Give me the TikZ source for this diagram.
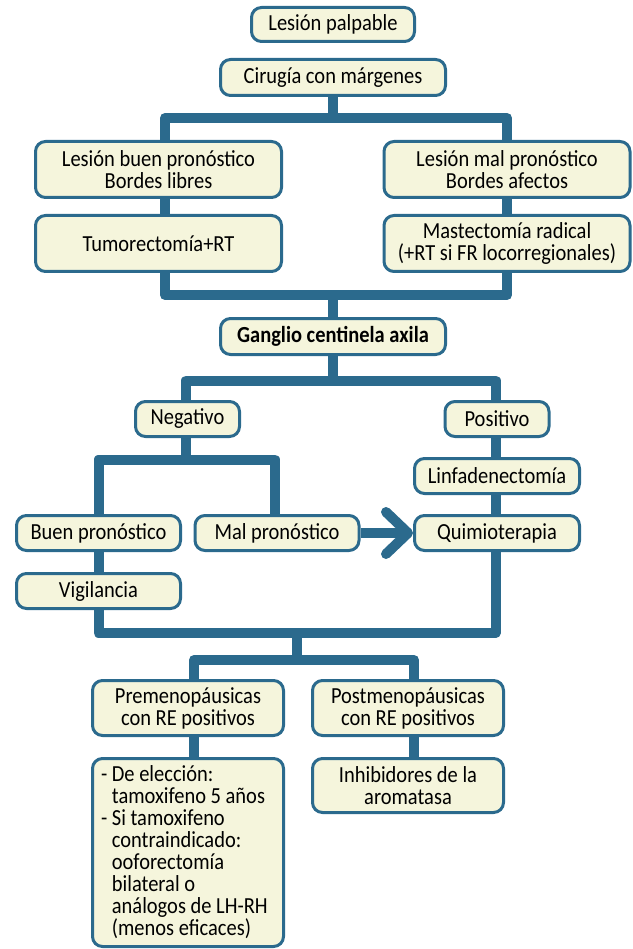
\documentclass[tikz,border=0pt]{standalone}
\usepackage{fontspec}
\setmainfont{Carlito}[FakeStretch=0.89]
\usetikzlibrary{arrows.meta,calc}
\definecolor{algoBlue}{HTML}{2B6A8D}
\definecolor{algoCream}{HTML}{F5F5DC}

\begin{document}
\begin{tikzpicture}[
  x=1pt, y=-1pt,
  font=\fontsize{23}{22}\selectfont,
  box/.style={draw=algoBlue, fill=algoCream, line width=3pt, rounded corners=10pt, align=center, inner sep=0pt},
  widebox/.style={box, minimum width=246pt, minimum height=56pt},
  midbox/.style={box, minimum width=225pt, minimum height=36pt},
  smallbox/.style={box, minimum width=104pt, minimum height=35pt},
  rowbox/.style={box, minimum width=164pt, minimum height=35pt},
  therbox/.style={box, minimum width=191pt, minimum height=55pt},
  link/.style={draw=algoBlue, line width=10pt, line join=round},
  bigarrow/.style={link, -{Straight Barb[length=22pt, width=42pt, round]}}
]
\useasboundingbox (0,0) rectangle (632,949);

% cirugia
\node[box, minimum width=163pt, minimum height=34pt] (palp) at (333,24.5) {Lesión palpable};
\node[midbox] (cir) at (333,77.5) {Cirugía con márgenes};
\node[widebox] (lbuen) at (158.5,169.5) {Lesión buen pronóstico\\Bordes libres};
\node[widebox] (lmal) at (507,169.5) {Lesión mal pronóstico\\Bordes afectos};
\node[widebox] (tumor) at (158.5,243.5) {Tumorectomía+RT};
\node[widebox] (mast) at (507,243.5) {Mastectomía radical\\(+RT si FR locorregionales)};

% ganglio
\node[midbox] (gang) at (333,336.5) {\bfseries Ganglio centinela axila};
\node[smallbox] (neg) at (187.5,419) {Negativo};
\node[smallbox] (pos) at (497,419) {Positivo};
\node[rowbox] (buen) at (98.5,533) {Buen pronóstico};
\node[rowbox] (mal) at (277,533) {Mal pronóstico};
\node[rowbox, minimum width=165pt] (linfa) at (497,476) {Linfadenectomía};
\node[rowbox, minimum width=165pt] (quimio) at (497,533) {Quimioterapia};
\node[rowbox] (vigil) at (98.5,591) {Vigilancia};

% hormonoterapia
\node[therbox] (pre) at (188,708) {Premenopáusicas\\con RE positivos};
\node[therbox] (post) at (408,708) {Postmenopáusicas\\con RE positivos};
\node[box, minimum width=191pt, minimum height=188pt, text width=174pt, align=flush left] (trat) at (188,852.5)
  {- De elección:\\\hphantom{- }tamoxifeno 5 años\\- Si tamoxifeno\\\hphantom{- }contraindicado:\\\hphantom{- }ooforectomía\\\hphantom{- }bilateral o\\\hphantom{- }análogos de LH-RH\\\hphantom{- }(menos eficaces)};
\node[box, minimum width=191pt, minimum height=54pt] (inhib) at (408,785.5) {Inhibidores de la\\aromatasa};

\coordinate (j1) at (333,118);
\coordinate (j2) at (333,295);
\coordinate (j3) at (333,380.5);
\coordinate (j4) at (186,459.5);
\coordinate (j5) at (296.5,633);
\coordinate (j6) at (296.5,660);

\draw[link] (cir.south) -- (j1);
\draw[link] ([xshift=6.5pt]lbuen.north) |- (j1) -| (lmal.north);
\draw[link] ([xshift=6.5pt]lbuen.south) -- ([xshift=6.5pt]tumor.north);
\draw[link] (lmal.south) -- (mast.north);
\draw[link] ([xshift=6.5pt]tumor.south) |- (j2) -| (mast.south);
\draw[link] (j2) -- (gang.north);

\draw[link] (gang.south) -- (j3);
\draw[link] ([xshift=-1.5pt]neg.north) |- (j3) -| ([xshift=-1.5pt]pos.north);
\draw[link] ([xshift=-1.5pt]neg.south) -- (j4);
\draw[link] (buen.north) |- (j4) -| ([xshift=-2pt]mal.north);
\draw[link] ([xshift=-1.5pt]pos.south) -- ([xshift=-1.5pt]linfa.north);
\draw[link] ([xshift=-1.5pt]linfa.south) -- ([xshift=-1.5pt]quimio.north);
\draw[link] (buen.south) -- (vigil.north);
\draw[bigarrow] (mal.east) -- (quimio.west);

\draw[link] (vigil.south) |- (j5) -| ([xshift=-1.5pt]quimio.south);
\draw[link] (j5) -- (j6);
\draw[link] ([xshift=6pt]pre.north) |- (j6) -| ([xshift=6pt]post.north);
\draw[link] ([xshift=6pt]pre.south) -- ([xshift=6pt]trat.north);
\draw[link] ([xshift=6pt]post.south) -- ([xshift=6pt]inhib.north);
\end{tikzpicture}
\end{document}
